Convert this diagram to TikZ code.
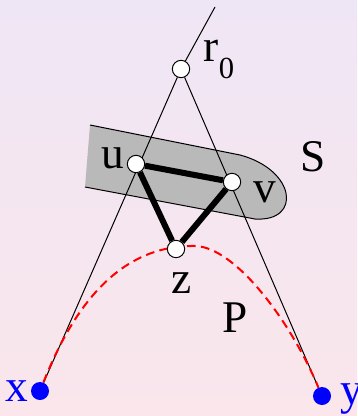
\documentclass[tikz,border=0pt]{standalone}
\usepackage{fontspec}
\setmainfont{Liberation Serif}
\usetikzlibrary{positioning, backgrounds}

\begin{document}
\begin{tikzpicture}[x=0.75pt, y=-0.75pt,
    every node/.style={font=\fontsize{34}{38}\selectfont},
    vertex/.style={circle, draw, fill=white, line width=0.75pt, inner sep=0pt, minimum size=13pt},
    terminal/.style={circle, fill=blue, inner sep=0pt, minimum size=13.5pt},
    tag/.style={inner sep=0pt},
    ray/.style={line width=0.75pt},
    edge/.style={line width=4.5pt},
    walk/.style={red, dashed, line width=1.5pt, dash pattern=on 6.5pt off 4pt}]

  \useasboundingbox (0,0) rectangle (357,416);

  % vertices
  \node[vertex] (r) at (181,69) {};
  \node[vertex] (u) at (136,164) {};
  \node[vertex] (v) at (232,182) {};
  \node[vertex] (z) at (176,249) {};
  \node[terminal] (x) at (40,391) {};
  \node[terminal] (y) at (322,396) {};
  \coordinate (top) at (215,7);

  % labels
  \node[tag, right=10pt of r, yshift=7pt] (rlab) {r\raisebox{-0.38em}{\fontsize{23}{25}\selectfont 0}};
  \node[tag, left=2pt of u, yshift=4pt] (ulab) {u};
  \node[tag, right=9pt of v, yshift=-8pt] (vlab) {v};
  \node[tag, below=11pt of z, xshift=4pt] (zlab) {z};
  \node[tag] (slab) at (313,157) {S};
  \node[tag] (plab) at (235,318) {P};
  \node[tag, blue, left=2pt of x] (xlab) {x};
  \node[tag, blue, right=7pt of y, yshift=-2pt] (ylab) {y};

  \begin{scope}[on background layer]
    \shade[top color={rgb,255:red,239;green,230;blue,245},
           bottom color={rgb,255:red,250;green,230;blue,235}] (0,0) rectangle (357,416);
    % the set S
    \fill[gray!55] (90,125) -- (240,155) .. controls (296,170) and (302,222) .. (255,219) -- (85,187) -- cycle;
    \draw[ray] (90,125) -- (240,155) .. controls (296,170) and (302,222) .. (255,219) -- (85,187);
    % rays from r
    \draw[ray] (top) -- (r);
    \draw[ray] (r) -- (x);
    \draw[ray] (r) -- (y);
    % path P
    \draw[walk] (x) .. controls (80,290) and (130,245) .. (195,246)
                    .. controls (235,247) and (290,320) .. (y);
  \end{scope}

  \draw[edge] (u) -- (v);
  \draw[edge] (v) -- (z);
  \draw[edge] (z) -- (u);
\end{tikzpicture}
\end{document}
